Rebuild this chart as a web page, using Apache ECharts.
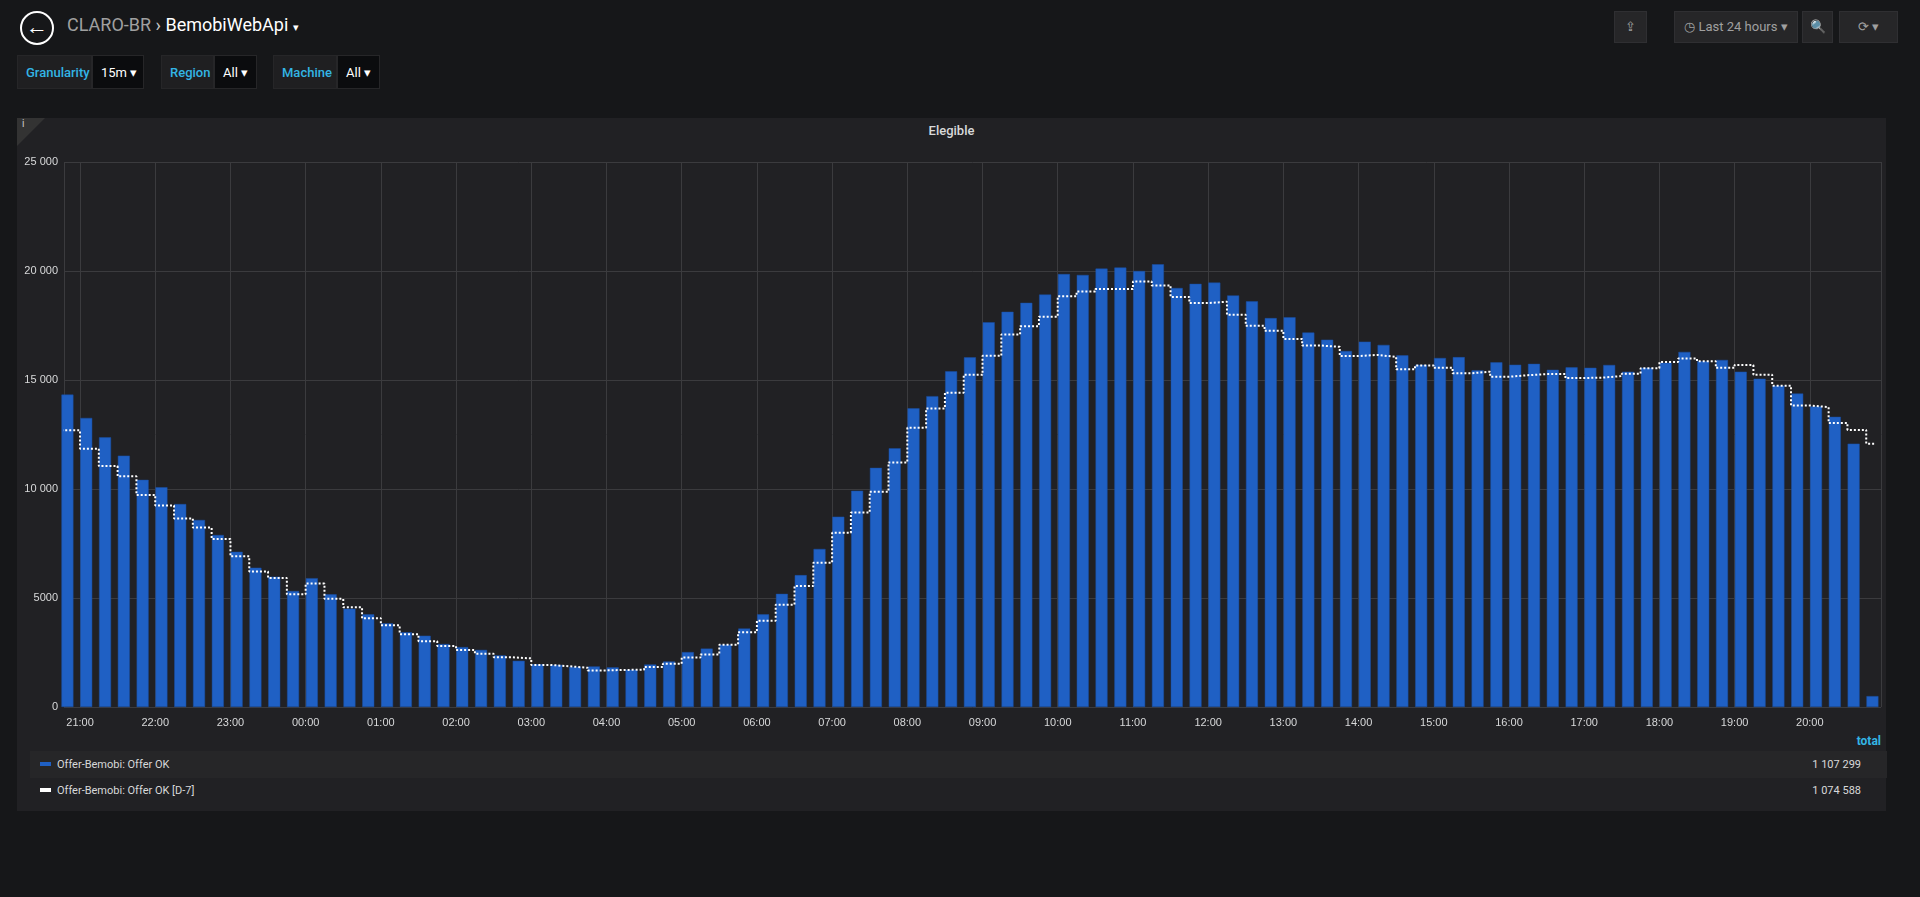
<!DOCTYPE html>
<html><head><meta charset="utf-8">
<script src="https://cdn.jsdelivr.net/npm/echarts@6/dist/echarts.min.js"></script>
<style>
html,body{margin:0;padding:0;background:#161719;width:1920px;height:897px;overflow:hidden;font-family:Roboto,"Noto Sans",sans-serif;color:#d8d9da}
.abs{position:absolute}
#panel{position:absolute;left:17px;top:118px;width:1869px;height:693px;background:#212124}
#chart{position:absolute;left:0;top:0;width:1920px;height:897px}
.btn{position:absolute;top:11px;height:32px;background:#262628;border:1px solid #2f2f32;box-sizing:border-box;color:#a0a0a0;font-size:13px;line-height:30px;text-align:center}
.var{position:absolute;top:55px;height:34px;line-height:34px;font-size:13px}
.vl{background:#1f1f21;color:#33b5e5;font-weight:500;padding:0 8px;position:absolute;top:0;height:34px;border:1px solid #262628;box-sizing:border-box}
.vv{background:#0b0c0e;color:#fff;position:absolute;top:0;height:34px;border:1px solid #262628;box-sizing:border-box;padding-left:8px}
.lg{position:absolute;left:30px;width:1857px;height:27px;line-height:27px;font-size:11px;color:#d8d9da}
</style></head>
<body>
<div id="panel"></div>
<div class="abs" style="left:20px;top:11px;width:30px;height:30px;border:2px solid #fff;border-radius:50%;color:#fff;font-size:22px;line-height:28px;text-align:center;font-weight:bold">&#x2190;</div>
<div class="abs" style="left:67px;top:14px;font-size:18px;color:#a0a0a0">CLARO-BR <span style="color:#c8c8c8">›</span> <span style="color:#fff">BemobiWebApi</span> <span style="font-size:11px;color:#fff">▾</span></div>
<div class="btn" style="left:1614px;width:33px">⇪</div>
<div class="btn" style="left:1674px;width:124px">◷ Last 24 hours ▾</div>
<div class="btn" style="left:1802px;width:31px">🔍</div>
<div class="btn" style="left:1839px;width:59px">⟳ ▾</div>
<div class="var" style="left:17px"><div class="vl" style="left:0;width:75px">Granularity</div><div class="vv" style="left:75px;width:52px">15m ▾</div></div>
<div class="var" style="left:161px"><div class="vl" style="left:0;width:53px">Region</div><div class="vv" style="left:53px;width:43px">All ▾</div></div>
<div class="var" style="left:273px"><div class="vl" style="left:0;width:64px">Machine</div><div class="vv" style="left:64px;width:43px">All ▾</div></div>
<div class="abs" style="left:17px;top:118px;width:0;height:0;border-top:28px solid #333;border-right:28px solid transparent"></div>
<div class="abs" style="left:22px;top:118px;font-size:10px;color:#ccc">i</div>
<div class="abs" style="left:0;width:1903px;top:123px;text-align:center;font-size:13px;font-weight:500;color:#d8d9da">Elegible</div>
<div class="abs" style="right:39px;top:734px;font-size:12px;font-weight:bold;color:#33b5e5">total</div>
<div class="lg" style="top:751px;background:#262628"><span style="display:inline-block;width:11px;height:4px;background:#1f60c4;margin:0 6px 2px 10px"></span>Offer-Bemobi: Offer OK<span style="position:absolute;right:26px">1 107 299</span></div>
<div class="lg" style="top:777px"><span style="display:inline-block;width:11px;height:4px;background:#fff;margin:0 6px 2px 10px"></span>Offer-Bemobi: Offer OK [D-7]<span style="position:absolute;right:26px">1 074 588</span></div>
<div id="chart"></div>
<script>
// 15-minute slots starting 20:45
const startTime = [2020, 0, 1, 20, 45];
const offerOK = [14330,13260,12370,11530,10420,10080,9310,8580,7890,7120,6390,5980,5320,5910,5170,4510,4250,3840,3430,3270,2890,2750,2620,2370,2120,1960,1930,1840,1860,1820,1710,1950,2090,2520,
2680,2860,3600,4250,5190,6050,7250,8730,9920,10970,11870,13700,14260,15400,16040,17650,18130,18540,18920,19860,19820,20110,20160,20000,20310,19220,19410,19470,18880,18610,17840,17880,
17180,16850,16330,16760,16610,16130,15700,16010,16050,15450,15810,15700,15740,15470,15580,15560,15690,15380,15560,15790,16290,15860,15920,15380,15060,14740,14380,13790,13310,12080,500];
const offerOKD7 = [12690,11850,11050,10580,9730,9240,8650,8230,7710,6910,6210,5920,5170,5660,4960,4570,4070,3750,3340,3020,2800,2610,2440,2280,2230,1930,1870,1800,1680,1700,1710,1840,1980,2270,
2410,2860,3430,3960,4690,5550,6620,7990,8920,9870,11220,12810,13690,14420,15240,16110,17090,17470,17900,18840,19060,19170,19170,19520,19340,18810,18530,18590,17990,17490,17260,16880,
16580,16520,16100,16150,16060,15490,15670,15560,15310,15380,15150,15220,15270,15270,15090,15110,15180,15290,15540,15830,15990,15860,15560,15690,15240,14740,13830,13760,13030,12710,12080];
const yTicks = [0,5000,10000,15000,20000,25000];

const STEP = 15*60*1000;
const t0 = new Date(...startTime).getTime();
const axisMin = t0 + 7*60*1000;
const axisMax = axisMin + 24*3600*1000;
const barData = offerOK.map((v,i)=>[t0+i*STEP+STEP*0.33, v]);
const lineData = offerOKD7.map((v,i)=>[t0+i*STEP, v]);
lineData.push([Math.min(t0+offerOKD7.length*STEP, axisMax), offerOKD7[offerOKD7.length-1]]);

const chart = echarts.init(document.getElementById('chart'), null, {renderer:'canvas'});
chart.setOption({
  animation:false,
  grid:{left:64,right:39,top:162,bottom:190,containLabel:false},
  xAxis:{type:'time',min:axisMin,max:axisMax,minInterval:3600000,maxInterval:3600000,
    axisLine:{show:false},axisTick:{show:false},
    splitLine:{show:true,lineStyle:{color:'#3b3b3e',width:1}},
    axisLabel:{color:'#d8d9da',fontSize:11,margin:10,hideOverlap:false,
      formatter:v=>{const d=new Date(v);return String(d.getHours()).padStart(2,'0')+':'+String(d.getMinutes()).padStart(2,'0');}}},
  yAxis:{type:'value',min:0,max:25000,interval:5000,
    axisLine:{show:false},axisTick:{show:false},
    splitLine:{lineStyle:{color:'#3b3b3e'}},
    axisLabel:{color:'#d8d9da',fontSize:11,margin:6,
      formatter:v=>v>=10000?String(v).replace(/(\d+)(\d{3})$/,'$1 $2'):String(v)}},
  series:[
    {name:'Offer-Bemobi: Offer OK',type:'bar',data:barData,barWidth:12,
     itemStyle:{color:'#1f60c4',borderColor:'#1a4fa3',borderWidth:0.5}},
    {name:'Offer-Bemobi: Offer OK [D-7]',type:'line',step:'end',data:lineData,symbol:'none',
     lineStyle:{color:'#ffffff',width:2,type:[2,2]},z:5}
  ]
});
</script>
</body></html>
